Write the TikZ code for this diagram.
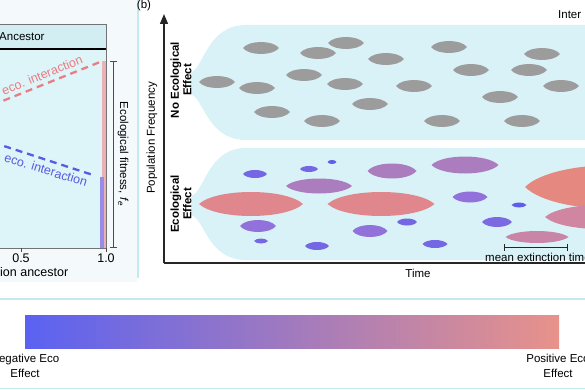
\documentclass[tikz,border=0pt]{standalone}
\usepackage{fontspec}
\setmainfont{Liberation Sans}
\usetikzlibrary{arrows.meta}
\definecolor{lanebg}{HTML}{D9F2F7}
\definecolor{plotbg}{HTML}{DDF4F8}
\definecolor{headbg}{HTML}{D3EEF3}
\definecolor{panelbg}{HTML}{F4FAFB}
\definecolor{sepline}{HTML}{C4EAF0}
\definecolor{grayfish}{HTML}{9C9C9C}
\definecolor{ecored}{HTML}{E0878E}
\definecolor{ecosalmon}{HTML}{E5887F}
\definecolor{ecopink}{HTML}{C985A8}
\definecolor{ecomauve}{HTML}{AC7DBE}
\definecolor{ecopurple}{HTML}{9272DA}
\definecolor{ecoblue}{HTML}{7367E4}
\definecolor{ecodeep}{HTML}{5F5DEA}
\definecolor{dashred}{HTML}{EA7C82}
\definecolor{dashblue}{HTML}{5A5AE2}
\definecolor{gradneg}{HTML}{5A62F2}
\definecolor{gradpos}{HTML}{E8928A}
\newcommand{\lens}[5]{\fill[#5] (#1-#3/2,#2) .. controls (#1-#3/3,#2-2*#4/3) and (#1+#3/3,#2-2*#4/3) .. (#1+#3/2,#2) .. controls (#1+#3/3,#2+2*#4/3) and (#1-#3/3,#2+2*#4/3) .. cycle;}

\begin{document}
\begin{tikzpicture}[x=1pt,y=-1pt]
                        \tikzstyle{lbl}=[font=\fontsize{11.5}{13}\selectfont, inner sep=0pt]
                        \tikzstyle{big lbl}=[font=\fontsize{12.5}{14}\selectfont, inner sep=0pt]
                        \tikzstyle{bold lbl}=[font=\fontsize{11.5}{12.5}\selectfont\bfseries, inner sep=0pt, align=center]
                        \tikzstyle{sep}=[sepline, line width=1.5pt]
                        \tikzstyle{axis}=[line width=1.3pt, black!85]
                        \tikzstyle{ecodash}=[line width=2.3pt, dash pattern=on 7pt off 5pt]
                        \useasboundingbox (0,0) rectangle (585,390);
                        \clip (0,0) rectangle (585,390);
                        \fill[panelbg] (0,0) rectangle (137,282);
                        \fill[plotbg] (-5,49) rectangle (106,248);
                        \fill[headbg] (-5,24) rectangle (106,49);
                        \draw[black!55, line width=0.6pt] (-5,24) rectangle (106,248);
                        \draw[black, line width=2pt] (-5,49) -- (106,49);
                        \node[lbl, anchor=west] (ancestor) at (-1,37) {Ancestor};
                        \draw[dashred, ecodash] (-30,114) -- (100,62);
                        \node[big lbl, text=dashred, rotate=22] (redlbl) at (42,75) {eco. interaction};
                        \draw[dashblue, ecodash] (-30,135) -- (93,175);
                        \node[big lbl, text=dashblue, rotate=-17] (bluelbl) at (46,170) {eco. interaction};
                        \fill[ecored!65] (102,61) rectangle (106,248);
                        \fill[ecoblue!75] (99.5,177) rectangle (104,248);
                        \coordinate (fittop) at (113,61);
                        \coordinate (fitbot) at (113,248);
                        \draw[black!70, line width=1pt, {Bar[width=7pt]}-{Bar[width=7pt]}] (fittop) -- (fitbot);
                        \node[lbl, rotate=-90] (fitlbl) at (123,154) {Ecological fitness, \textit{f}\textsubscript{\textit{e}}};
                        \draw[black!70] (21,248) -- (21,252);
                        \draw[black!70] (106,248) -- (106,252);
                        \node[big lbl] (tickhalf) at (21,258) {0.5};
                        \node[big lbl] (tickone) at (106,258) {1.0};
                        \node[big lbl, anchor=west] (xlbl) at (0,272) {ion ancestor};
                        \draw[sep] (138,0) -- (138,278);
                        \draw[sep] (0,299) -- (585,299);
                        \draw[sep] (0,388.5) -- (585,388.5);
                        \node[lbl] (panelb) at (144,6) {(b)};
                        \node[lbl, anchor=west] (interlbl) at (558,15) {Inter};
                        \fill[lanebg] (190,73) .. controls (204,69) and (206,26) .. (245,25) -- (600,25) -- (600,140) -- (245,140) .. controls (206,139) and (204,97) .. (190,94) -- cycle;
                        \fill[lanebg] (191,196) .. controls (205,192) and (207,149) .. (245,148) -- (600,148) -- (600,260) -- (245,260) .. controls (207,259) and (205,219) .. (191,215) -- cycle;
                        \lens{261}{48}{36}{12}{grayfish}
                        \lens{346}{43}{36}{12}{grayfish}
                        \lens{318}{53}{36}{12}{grayfish}
                        \lens{217}{82}{36}{12}{grayfish}
                        \lens{257}{88}{36}{12}{grayfish}
                        \lens{304}{75}{36}{12}{grayfish}
                        \lens{345}{84}{36}{12}{grayfish}
                        \lens{272}{112}{36}{12}{grayfish}
                        \lens{322}{121}{36}{12}{grayfish}
                        \lens{386}{59}{36}{12}{grayfish}
                        \lens{370}{104}{36}{12}{grayfish}
                        \lens{449}{47}{36}{12}{grayfish}
                        \lens{542}{54}{36}{12}{grayfish}
                        \lens{471}{70}{36}{12}{grayfish}
                        \lens{529}{70}{36}{12}{grayfish}
                        \lens{414}{86}{36}{12}{grayfish}
                        \lens{561}{86}{36}{12}{grayfish}
                        \lens{500}{97}{36}{12}{grayfish}
                        \lens{442}{121}{36}{12}{grayfish}
                        \lens{522}{121}{36}{12}{grayfish}
                        \lens{251}{204}{104}{24}{ecored}
                        \lens{381}{204}{107}{24}{ecored}
                        \lens{319}{186}{66}{15}{ecomauve}
                        \lens{255}{174}{24}{8}{ecoblue}
                        \lens{309}{169}{18}{6}{ecoblue}
                        \lens{332}{162}{9}{4}{ecodeep}
                        \lens{258}{226}{36}{12}{ecopurple}
                        \lens{261}{241}{14}{5}{ecoblue}
                        \lens{317}{246}{24}{8}{ecoblue}
                        \lens{392}{171}{49}{15}{ecomauve}
                        \lens{370}{231}{35}{12}{ecopurple}
                        \lens{465}{165}{67}{17}{ecomauve}
                        \lens{470}{197}{35}{11}{ecopurple}
                        \lens{407}{222}{20}{7}{ecoblue}
                        \lens{435}{244}{25}{8}{ecoblue}
                        \lens{497}{222}{30}{10}{ecoblue!70!ecopurple}
                        \lens{519}{205}{15}{5}{ecodeep}
                        \lens{537}{237}{63}{12}{ecopink}
                        \lens{615}{187}{180}{44}{ecosalmon}
                        \lens{600}{217}{110}{24}{ecopink!70!ecored}
                        \coordinate (yorig) at (164,263);
                        \coordinate (ytip) at (164,14);
                        \coordinate (xend) at (600,263);
                        \draw[axis, -{Triangle[width=8pt,length=10pt]}] (yorig) -- (ytip);
                        \draw[axis] (yorig) -- (xend);
                        \node[lbl, rotate=90] (popfreq) at (152,138) {Population Frequency};
                        \node[bold lbl, rotate=90] (noeco) at (181,80) {No Ecological\\Effect};
                        \node[bold lbl, rotate=90] (eco) at (181,204) {Ecological\\Effect};
                        \coordinate (extstart) at (504,247);
                        \coordinate (extend) at (568,247);
                        \draw[black!85, line width=1pt, {Bar[width=7pt]}-{Bar[width=7pt]}] (extstart) -- (extend);
                        \node[lbl, anchor=west] (extlbl) at (485,257) {mean extinction time};
                        \node[lbl] (timelbl) at (418,273) {Time};
                        \shade[left color=gradneg, right color=gradpos] (25,315) rectangle (559,348);
                        \node[lbl, align=center, font=\fontsize{11.5}{15}\selectfont] (neglbl) at (25,365.5) {Negative Eco\\Effect};
                        \node[lbl, align=center, font=\fontsize{11.5}{15}\selectfont] (poslbl) at (558,365.5) {Positive Eco\\Effect};
                    \end{tikzpicture}
\end{document}
